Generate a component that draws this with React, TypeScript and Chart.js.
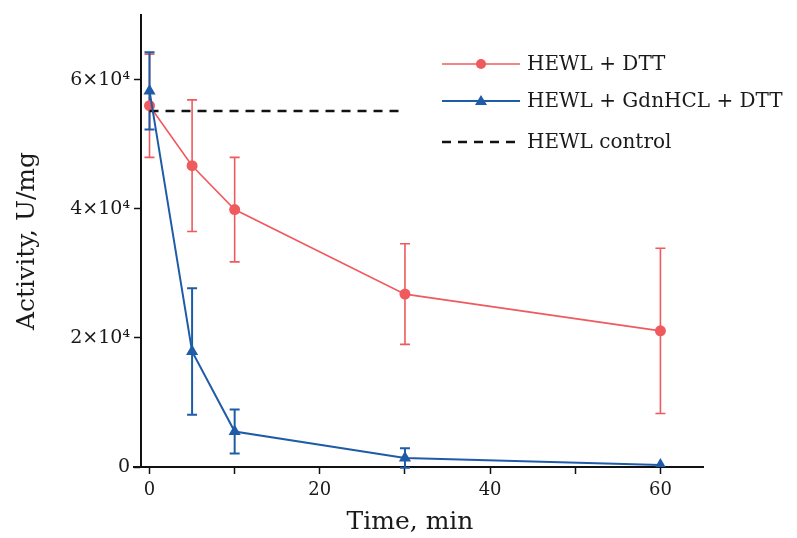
import { useEffect, useRef } from "react";
import { Chart, registerables } from "chart.js";
Chart.register(...registerables);

// ---- data ----
const times = [0, 5, 10, 30, 60];
const dttMean = [56000, 46700, 39900, 26800, 21100];
const dttErr = [8000, 10200, 8100, 7800, 12800];
const gdnMean = [58300, 17900, 5500, 1400, 300];
const gdnErr = [6000, 9800, 3400, 1500, 0];
const controlTimes = [0, 30];
const controlLevel = 55200;

const xTickValues = [0, 10, 20, 30, 40, 50, 60];
const xTickLabels = ["0", "", "20", "", "40", "", "60"];
const yTickValues = [0, 20000, 40000, 60000];
const yTickLabels = ["0", "2×10⁴", "4×10⁴", "6×10⁴"];

const seriesNames = ["HEWL + DTT", "HEWL + GdnHCL + DTT", "HEWL control"];
const RED = "#ef5a5e";
const BLUE = "#1f5ca8";
const FONT = '"DejaVu Serif", serif';
const TEXT = "#1a1a1a";

const errorBarPlugin = {
  id: "errorBars",
  beforeDatasetsDraw(chart: any) {
    const { ctx, scales } = chart;
    const x = scales.x;
    const y = scales.y;
    const draw = (means: number[], errs: number[], color: string, lw: number) => {
      ctx.save();
      ctx.strokeStyle = color;
      ctx.lineWidth = lw;
      times.forEach((t, i) => {
        if (!errs[i]) return;
        const px = x.getPixelForValue(t);
        const top = y.getPixelForValue(means[i] + errs[i]);
        const bot = y.getPixelForValue(means[i] - errs[i]);
        const cap = 5;
        ctx.beginPath();
        ctx.moveTo(px, top);
        ctx.lineTo(px, bot);
        ctx.moveTo(px - cap, top);
        ctx.lineTo(px + cap, top);
        ctx.moveTo(px - cap, bot);
        ctx.lineTo(px + cap, bot);
        ctx.stroke();
      });
      ctx.restore();
    };
    draw(dttMean, dttErr, RED, 1.6);
    draw(gdnMean, gdnErr, BLUE, 2);
  },
};

const decorPlugin = {
  id: "decor",
  afterDraw(chart: any) {
    const { ctx, chartArea } = chart;
    ctx.save();
    // x-axis overshoot to the left of the y axis
    ctx.strokeStyle = "#111";
    ctx.lineWidth = 2;
    ctx.beginPath();
    ctx.moveTo(chartArea.left - 8, chartArea.bottom);
    ctx.lineTo(chartArea.left, chartArea.bottom);
    ctx.stroke();

    // axis titles
    ctx.fillStyle = TEXT;
    ctx.font = `25px ${FONT}`;
    ctx.textAlign = "center";
    ctx.textBaseline = "middle";
    ctx.fillText("Time, min", 410, 522);
    ctx.save();
    ctx.translate(27, 241);
    ctx.rotate(-Math.PI / 2);
    ctx.fillText("Activity, U/mg", 0, 0);
    ctx.restore();

    // legend
    const rows = [64, 101, 142];
    const x0 = 442;
    const x1 = 520;
    const xm = (x0 + x1) / 2;
    ctx.font = `20px ${FONT}`;
    ctx.textAlign = "left";
    ctx.textBaseline = "middle";
    // row 1
    ctx.strokeStyle = RED;
    ctx.lineWidth = 1.6;
    ctx.beginPath();
    ctx.moveTo(x0, rows[0]);
    ctx.lineTo(x1, rows[0]);
    ctx.stroke();
    ctx.fillStyle = RED;
    ctx.beginPath();
    ctx.arc(xm, rows[0], 5, 0, Math.PI * 2);
    ctx.fill();
    // row 2
    ctx.strokeStyle = BLUE;
    ctx.lineWidth = 2;
    ctx.beginPath();
    ctx.moveTo(x0, rows[1]);
    ctx.lineTo(x1, rows[1]);
    ctx.stroke();
    ctx.fillStyle = BLUE;
    ctx.beginPath();
    ctx.moveTo(xm, rows[1] - 6);
    ctx.lineTo(xm + 6, rows[1] + 4);
    ctx.lineTo(xm - 6, rows[1] + 4);
    ctx.closePath();
    ctx.fill();
    // row 3
    ctx.strokeStyle = "#111";
    ctx.lineWidth = 2.5;
    ctx.setLineDash([9, 7]);
    ctx.beginPath();
    ctx.moveTo(x0, rows[2]);
    ctx.lineTo(x1, rows[2]);
    ctx.stroke();
    ctx.setLineDash([]);

    ctx.fillStyle = TEXT;
    seriesNames.forEach((n, i) => ctx.fillText(n, 527, rows[i] + 1));
    ctx.restore();
  },
};

export default function App() {
  const ref = useRef<HTMLCanvasElement | null>(null);
  useEffect(() => {
    if (!ref.current) return;
    const chart = new Chart(ref.current, {
      type: "line",
      data: {
        datasets: [
          {
            label: seriesNames[0],
            data: times.map((t, i) => ({ x: t, y: dttMean[i] })),
            borderColor: RED,
            backgroundColor: RED,
            borderWidth: 1.6,
            pointStyle: "circle",
            pointRadius: 5.5,
            pointBorderWidth: 0,
            tension: 0,
            order: 3,
          },
          {
            label: seriesNames[1],
            data: times.map((t, i) => ({ x: t, y: gdnMean[i] })),
            borderColor: BLUE,
            backgroundColor: BLUE,
            borderWidth: 2,
            pointStyle: "triangle",
            pointRadius: 7,
            pointBorderWidth: 0,
            tension: 0,
            order: 1,
          },
          {
            label: seriesNames[2],
            data: controlTimes.map((t) => ({ x: t, y: controlLevel })),
            borderColor: "#111",
            borderWidth: 2.5,
            borderDash: [9, 7],
            pointRadius: 0,
            tension: 0,
            order: 2,
          },
        ],
      },
      options: {
        responsive: false,
        animation: false,
        layout: { padding: { top: 15, right: 94, left: 0, bottom: 0 } },
        plugins: { legend: { display: false }, tooltip: { enabled: false } },
        scales: {
          x: {
            type: "linear",
            min: -1,
            max: 65,
            afterBuildTicks: (s: any) => {
              s.ticks = xTickValues.map((v) => ({ value: v }));
            },
            afterFit: (s: any) => {
              s.height = 71;
            },
            border: { display: true, color: "#111", width: 2 },
            grid: {
              display: true,
              drawOnChartArea: false,
              drawTicks: true,
              tickLength: 7,
              color: "#111",
              tickWidth: 1.5,
            },
            ticks: {
              autoSkip: false,
              maxRotation: 0,
              padding: 6,
              color: TEXT,
              font: { family: FONT, size: 18 },
              callback: (v: any) => xTickLabels[xTickValues.indexOf(Number(v))] ?? "",
            },
          },
          y: {
            type: "linear",
            min: 0,
            max: 70000,
            afterBuildTicks: (s: any) => {
              s.ticks = yTickValues.map((v) => ({ value: v }));
            },
            afterFit: (s: any) => {
              s.width = 141;
            },
            border: { display: true, color: "#111", width: 2 },
            grid: {
              display: true,
              drawOnChartArea: false,
              drawTicks: true,
              tickLength: 7,
              color: "#111",
              tickWidth: 1.5,
            },
            ticks: {
              autoSkip: false,
              padding: 4,
              color: TEXT,
              font: { family: FONT, size: 19 },
              callback: (v: any) => yTickLabels[yTickValues.indexOf(Number(v))] ?? "",
            },
          },
        },
      },
      plugins: [errorBarPlugin, decorPlugin],
    });
    return () => chart.destroy();
  }, []);
  return (
    <div style={{ position: "absolute", left: 0, top: 0, width: 797, height: 538, background: "#fff" }}>
      <canvas ref={ref} width={797} height={538} style={{ display: "block" }} />
    </div>
  );
}
